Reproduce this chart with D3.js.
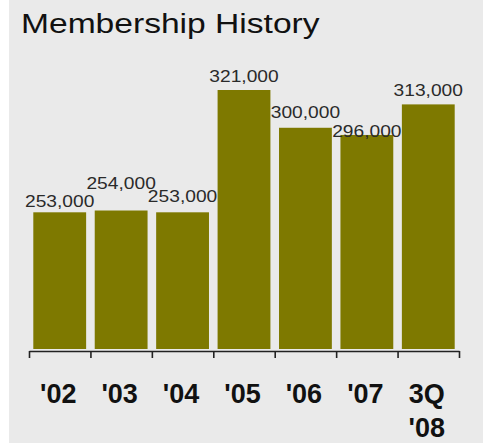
<!DOCTYPE html>
<html>
<head>
<meta charset="utf-8">
<script src="https://cdn.jsdelivr.net/npm/d3@7"></script>
<style>
  html, body { margin: 0; padding: 0; background: #ffffff; }
  svg { display: block; }
</style>
</head>
<body>
<svg id="chart" width="490" height="443"></svg>
<script>
// Membership totals by year
const categories = ["'02", "'03", "'04", "'05", "'06", "'07", "3Q\n'08"];
const members = [253000, 254000, 253000, 321000, 300000, 296000, 313000];
const valueLabels = ["253,000", "254,000", "253,000", "321,000", "300,000", "296,000", "313,000"];
const title = "Membership History";

// Vertical lift of each value label above its bar (keeps neighbours from colliding)
const labelLift = [5, 22, 10, 8, 10, -2, 8];

const svg = d3.select("#chart");

// panel background
svg.append("rect")
  .attr("x", 9).attr("y", 0)
  .attr("width", 474).attr("height", 443)
  .attr("fill", "#eaeaea");

// title, set in a wide face
svg.append("text")
  .attr("transform", "translate(21,33) scale(1.2,1)")
  .attr("font-family", "'Liberation Sans', Arial, sans-serif")
  .attr("font-size", 28)
  .attr("fill", "#111")
  .text(title);

const x = d3.scaleBand()
  .domain(categories)
  .range([29, 459])
  .paddingInner(0.14)
  .paddingOuter(0.07);

const y = d3.scaleLinear()
  .domain([177000, d3.max(members)])
  .range([349, 90]);

const data = categories.map((c, i) => ({ cat: c, value: members[i], label: valueLabels[i], lift: labelLift[i] }));

// bars
svg.append("g").selectAll("rect")
  .data(data)
  .join("rect")
  .attr("x", d => x(d.cat))
  .attr("y", d => y(d.value))
  .attr("width", x.bandwidth())
  .attr("height", d => y.range()[0] - y(d.value))
  .attr("fill", "#7e7900");

// value labels
svg.append("g").selectAll("text")
  .data(data)
  .join("text")
  .attr("transform", d => `translate(${x(d.cat) + x.bandwidth() / 2},${y(d.value) - d.lift}) scale(1.13,1)`)
  .attr("text-anchor", "middle")
  .attr("font-family", "'Liberation Sans', Arial, sans-serif")
  .attr("font-size", 17)
  .attr("fill", "#2a2a2a")
  .text(d => d.label);

// baseline with ticks on the category boundaries
const edges = d3.scaleLinear().domain([0, categories.length]).range(x.range());
const axisG = svg.append("g")
  .attr("transform", "translate(0,351)")
  .call(d3.axisBottom(edges).ticks(categories.length).tickSize(7).tickSizeOuter(0).tickFormat(""));
axisG.selectAll("path, line").attr("stroke", "#222").attr("stroke-width", 1.6);

// category labels (multi-line where needed)
const catG = svg.append("g").selectAll("text")
  .data(categories)
  .join("text")
  .attr("x", d => x(d) + x.bandwidth() / 2 - 1.5)
  .attr("y", 403)
  .attr("text-anchor", "middle")
  .attr("font-family", "'Liberation Sans', Arial, sans-serif")
  .attr("font-weight", "bold")
  .attr("font-size", 27)
  .attr("fill", "#111");
catG.each(function(d) {
  const lines = d.split("\n");
  d3.select(this).selectAll("tspan")
    .data(lines)
    .join("tspan")
    .attr("x", x(d) + x.bandwidth() / 2 - 1.5)
    .attr("dy", (l, i) => i === 0 ? 0 : 34)
    .text(l => l);
});
</script>
</body>
</html>
